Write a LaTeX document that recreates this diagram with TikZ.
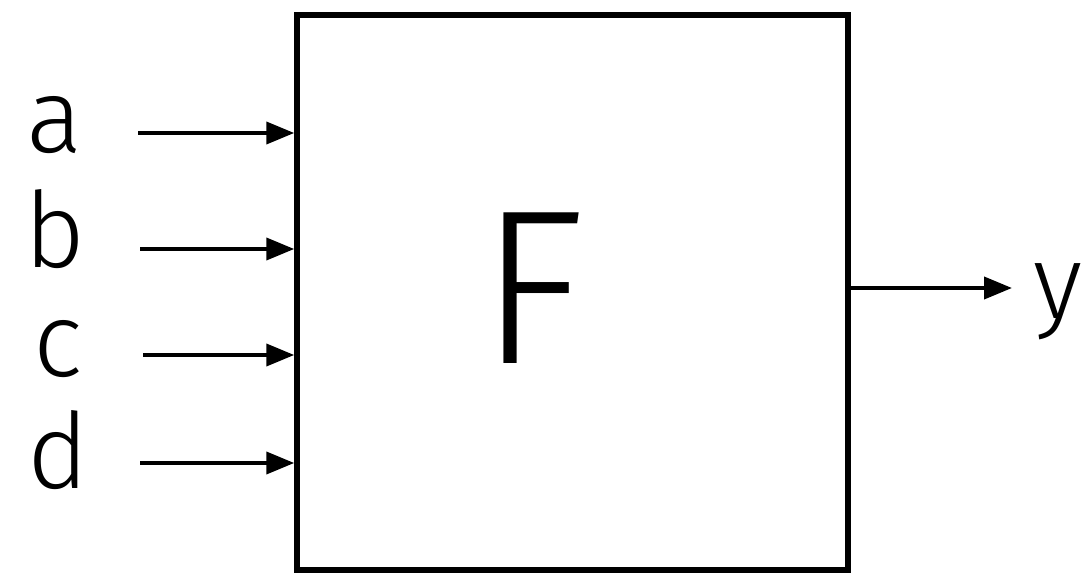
\documentclass[tikz,border=0pt]{standalone}
\usepackage{fontspec}
\setmainfont{Fira Sans}[UprightFont={* Light}]
\usetikzlibrary{arrows.meta}
\begin{document}
\begin{tikzpicture}[x=1pt,y=-1pt,
  arr/.style={line width=4pt,-{Triangle[length=28pt,width=22pt]}},
  lbl/.style={inner sep=0pt,font=\fontsize{105}{105}\selectfont},
  blk/.style={draw,line width=5.5pt,minimum width=551pt,minimum height=555pt,inner sep=0pt}]
\useasboundingbox (0,0) rectangle (1089,577);
\node[blk] (box) at (572.5,292.5) {};
\node[inner sep=0pt,font=\fontsize{220}{220}\selectfont] (F) at (532,288) {F};
\node[lbl,anchor=base] (a) at (55,153) {a};
\node[lbl,anchor=base] (b) at (55,268) {b};
\node[lbl,anchor=base] (c) at (58,376) {c};
\node[lbl,anchor=base] (d) at (58,488) {d};
\node[lbl,anchor=base] (y) at (1058,318) {y};
\coordinate (sa) at (138,133);
\coordinate (sb) at (140,249);
\coordinate (sc) at (143,355);
\coordinate (sd) at (140,463);
\coordinate (ey) at (1012,288);
\draw[arr] (sa) -- (sa -| box.west);
\draw[arr] (sb) -- (sb -| box.west);
\draw[arr] (sc) -- (sc -| box.west);
\draw[arr] (sd) -- (sd -| box.west);
\draw[arr] (box.east |- ey) -- (ey);
\end{tikzpicture}
\end{document}
